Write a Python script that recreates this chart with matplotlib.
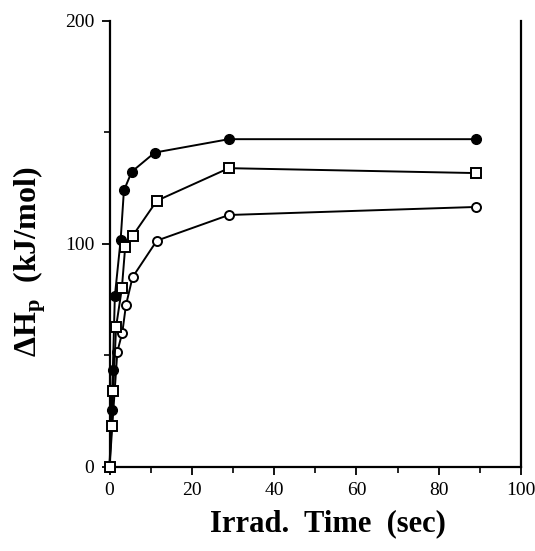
import matplotlib
matplotlib.use("Agg")
import matplotlib.pyplot as plt
from matplotlib.ticker import MultipleLocator

plt.rcParams['font.family'] = ['Liberation Serif', 'DejaVu Serif']
plt.rcParams['mathtext.fontset'] = 'custom'
plt.rcParams['mathtext.rm'] = 'Liberation Serif'
plt.rcParams['mathtext.bf'] = 'Liberation Serif:bold'

# irradiation time (sec) and enthalpy (kJ/mol)
t_filled = [0, 0.5, 0.8, 1.3, 2.7, 3.5, 5.4, 11, 29, 89]
h_filled = [0, 25.6, 43.5, 76.7, 101.8, 124, 132.4, 141, 147, 147]

t_square = [0, 0.5, 0.9, 1.6, 3.0, 3.8, 5.6, 11.5, 29, 89]
h_square = [0, 18.4, 34.2, 62.9, 80.1, 98.5, 103.6, 119.4, 134, 131.8]

t_open = [0, 1.9, 3.1, 4.0, 5.6, 11.5, 29, 89]
h_open = [0, 51.7, 60.2, 72.6, 85.1, 101.5, 113, 116.6]

fig = plt.figure(figsize=(5.35, 5.51), dpi=100)
ax = fig.add_axes([0.2047, 0.1525, 0.7691, 0.8094])

ax.plot(t_open, h_open, '-o', color='black', lw=1.4, ms=6.5,
        mfc='white', mec='black', mew=1.4, zorder=3, clip_on=False)
ax.plot(t_filled, h_filled, '-o', color='black', lw=1.4, ms=7,
        mfc='black', mec='black', zorder=4, clip_on=False)
ax.plot(t_square, h_square, '-s', color='black', lw=1.4, ms=7,
        mfc='white', mec='black', mew=1.4, zorder=5, clip_on=False)

ax.set_xlim(0, 100)
ax.set_ylim(0, 200)
ax.xaxis.set_major_locator(MultipleLocator(20))
ax.xaxis.set_minor_locator(MultipleLocator(10))
ax.yaxis.set_major_locator(MultipleLocator(100))
ax.yaxis.set_minor_locator(MultipleLocator(50))

ax.spines['top'].set_visible(False)
for s in ['left', 'bottom', 'right']:
    ax.spines[s].set_linewidth(1.6)

ax.tick_params(which='major', direction='out', length=6, width=1.3,
               labelsize=14, pad=5)
ax.tick_params(which='minor', direction='out', length=4, width=1.2)

ax.set_xlabel('Irrad.  Time  (sec)', fontsize=22, fontweight='bold')
ax.set_ylabel(r'$\mathbf{\Delta H_p}$  $\mathbf{(kJ/mol)}$', fontsize=23)
ax.xaxis.set_label_coords(0.53, -0.095)
ax.yaxis.set_label_coords(-0.15, 0.46)

fig.savefig('out.png', dpi=100)
